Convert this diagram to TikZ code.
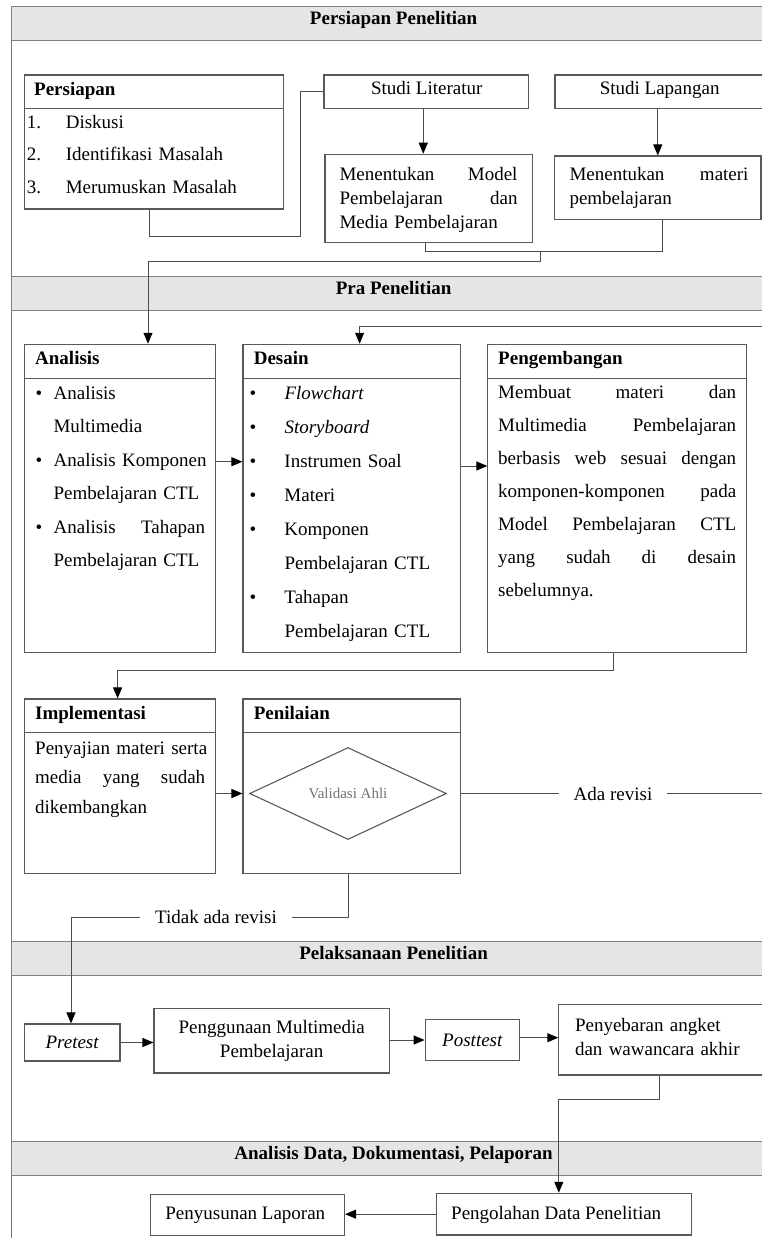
\documentclass[tikz,border=0pt]{standalone}
\usepackage{fontspec}
\setmainfont{Liberation Serif}
\usetikzlibrary{arrows.meta,shapes.geometric}
\begin{document}
\begin{tikzpicture}[x=1pt,y=-1pt,
  box/.style={draw=black!65,line width=1.1pt,inner sep=0pt,rectangle},
  band/.style={draw=black!50,fill=black!10,line width=1pt,inner sep=0pt,rectangle,minimum width=764.5pt,minimum height=34pt},
  conn/.style={draw=black!70,line width=1pt},
  arr/.style={conn,-{Triangle[length=11pt,width=9pt,color=black]}},
  txt/.style={font=\fontsize{19}{23}\selectfont,inner sep=0pt},
  btxt/.style={txt,anchor=base},
  hdr/.style={font=\bfseries\fontsize{19}{23}\selectfont,inner sep=0pt,anchor=base west},
  bandtxt/.style={font=\bfseries\fontsize{19}{23}\selectfont,inner sep=0pt,anchor=base},
  para/.style 2 args={inner sep=0pt,anchor=base west,text width=#1,align=left,font=\fontsize{19}{#2}\selectfont},
  lbl/.style={txt,fill=white,inner xsep=15pt,inner ysep=3pt}
]
\useasboundingbox (0,0) rectangle (762,1238);
\clip (0,0) rectangle (762,1238);

% table frame
\draw[draw=black!55,line width=1pt] (11.5,7) rectangle (776,1260);

% section bands
\node[band] (b1) at (393.75,24) {};
\node[bandtxt] (b1t) at (393.6,25) {Persiapan Penelitian};
\node[band] (b2) at (393.75,293.7) {};
\node[bandtxt] (b2t) at (393.6,294.7) {Pra Penelitian};
\node[band] (b3) at (393.75,958) {};
\node[bandtxt] (b3t) at (393.6,959) {Pelaksanaan Penelitian};
\node[band] (b4) at (393.75,1158.6) {};
\node[bandtxt] (b4t) at (393.6,1159.6) {Analisis Data, Dokumentasi, Pelaporan};

% ---- Persiapan Penelitian
\node[box,minimum width=259pt,minimum height=33.3pt] (perH) at (153.8,91.65) {};
\node[box,minimum width=259pt,minimum height=100.7pt] (perB) at (153.8,158.65) {};
\node[hdr] (perHt) at (34,96) {Persiapan};
\node[para={250pt}{32.5pt}] (perBt) at (26.7,128.3)
  {\makebox[38.9pt][l]{1.}Diskusi\\\makebox[38.9pt][l]{2.}Identifikasi Masalah\\\makebox[38.9pt][l]{3.}Merumuskan Masalah};

\node[box,minimum width=204.5pt,minimum height=33.5pt] (lit) at (426.25,91.75) {};
\node[btxt] (litt) at (426.7,94.5) {Studi Literatur};
\node[box,minimum width=245pt,minimum height=33.5pt] (lap) at (677.5,91.75) {};
\node[btxt] (lapt) at (659.7,94.5) {Studi Lapangan};

\node[box,minimum width=207.3pt,minimum height=88pt] (modl) at (428.65,198.3) {};
\node[para={178pt}{24pt}] (modlt) at (339.3,180.5)
  {\makebox[178pt][l]{Menentukan\hfill Model}\\\makebox[178pt][l]{Pembelajaran\hfill dan}\\Media Pembelajaran};
\node[box,minimum width=206.5pt,minimum height=63.3pt] (mat) at (657.75,187.65) {};
\node[para={179pt}{23.5pt}] (matt) at (569.3,180.7)
  {\makebox[179pt][l]{Menentukan\hfill materi}\\pembelajaran};

% ---- Pra Penelitian
\node[box,minimum width=191.4pt,minimum height=34pt] (anaH) at (120,361.3) {};
\node[box,minimum width=191.4pt,minimum height=274.4pt] (anaB) at (120,515.5) {};
\node[hdr] (anaHt) at (35,364.5) {Analisis};
\node[para={180pt}{33.5pt}] (anaBt) at (35.5,399)
  {\makebox[17.9pt][l]{\textbullet}Analisis\\
   \hspace*{17.9pt}Multimedia\\
   \makebox[17.9pt][l]{\textbullet}Analisis Komponen\\
   \hspace*{17.9pt}Pembelajaran CTL\\
   \makebox[17.9pt][l]{\textbullet}\makebox[151.5pt][l]{Analisis\hfill Tahapan}\\
   \hspace*{17.9pt}Pembelajaran CTL};

\node[box,minimum width=217.6pt,minimum height=34pt] (desH) at (351.8,361.3) {};
\node[box,minimum width=217.6pt,minimum height=274.4pt] (desB) at (351.8,515.5) {};
\node[hdr] (desHt) at (253.6,364.5) {Desain};
\node[para={205pt}{34pt}] (desBt) at (249.4,399)
  {\makebox[34.9pt][l]{\textbullet}\textit{Flowchart}\\
   \makebox[34.9pt][l]{\textbullet}\textit{Storyboard}\\
   \makebox[34.9pt][l]{\textbullet}Instrumen Soal\\
   \makebox[34.9pt][l]{\textbullet}Materi\\
   \makebox[34.9pt][l]{\textbullet}Komponen\\
   \hspace*{34.9pt}Pembelajaran CTL\\
   \makebox[34.9pt][l]{\textbullet}Tahapan\\
   \hspace*{34.9pt}Pembelajaran CTL};

\node[box,minimum width=258.7pt,minimum height=34pt] (pengH) at (617.25,361.3) {};
\node[box,minimum width=258.7pt,minimum height=274.4pt] (pengB) at (617.25,515.5) {};
\node[hdr] (pengHt) at (498,364.5) {Pengembangan};
\node[para={240pt}{33pt}] (pengBt) at (498,398.5)
  {\makebox[238pt][l]{Membuat\hfill materi\hfill dan}\\
   \makebox[238pt][l]{Multimedia\hfill Pembelajaran}\\
   \makebox[238pt][l]{berbasis\hfill web\hfill sesuai\hfill dengan}\\
   \makebox[238pt][l]{komponen-komponen\hfill pada}\\
   \makebox[238pt][l]{Model\hfill Pembelajaran\hfill CTL}\\
   \makebox[238pt][l]{yang\hfill sudah\hfill di\hfill desain}\\
   sebelumnya.};

\node[box,minimum width=191.4pt,minimum height=33.7pt] (impH) at (120,715.85) {};
\node[box,minimum width=191.4pt,minimum height=140.6pt] (impB) at (120,803) {};
\node[hdr] (impHt) at (35,719.5) {Implementasi};
\node[para={175pt}{29.5pt}] (impBt) at (35,754.2)
  {Penyajian materi serta\\\makebox[170pt][l]{media\hfill yang\hfill sudah}\\dikembangkan};

\node[box,minimum width=217.6pt,minimum height=33.7pt] (penH) at (351.8,715.85) {};
\node[box,minimum width=217.6pt,minimum height=140.6pt] (penB) at (351.8,803) {};
\node[hdr] (penHt) at (253.6,719.5) {Penilaian};
\node[draw=black!65,line width=1.1pt,diamond,minimum width=196.7pt,minimum height=92pt,inner sep=0pt,
      font=\fontsize{15}{18}\selectfont,text=black!55] (dia) at (348,793.5) {Validasi Ahli};

% ---- Pelaksanaan Penelitian
\node[box,minimum width=95.8pt,minimum height=37pt,font=\itshape\fontsize{19}{23}\selectfont] (pre) at (72.1,1042.5) {Pretest};
\node[box,minimum width=235.3pt,minimum height=64.5pt,align=center,font=\fontsize{19}{23.5}\selectfont] (peng2) at (271.65,1040.75)
  {Penggunaan Multimedia\\Pembelajaran};
\node[box,minimum width=94.2pt,minimum height=41.4pt,font=\itshape\fontsize{19}{23}\selectfont] (post) at (472.3,1040) {Posttest};
\node[box,minimum width=241.2pt,minimum height=70.5pt] (sebar) at (679.4,1039.75) {};
\node[para={200pt}{24pt}] (sebart) at (574.8,1031.5) {Penyebaran angket\\dan wawancara akhir};

% ---- Analisis Data
\node[box,minimum width=255.5pt,minimum height=41.7pt] (olah) at (564.05,1214.15) {};
\node[txt,anchor=base west] (olaht) at (451,1219.5) {Pengolahan Data Penelitian};
\node[box,minimum width=194.4pt,minimum height=41.2pt] (susun) at (247.3,1214.9) {};
\node[btxt] (susunt) at (245.3,1219.8) {Penyusunan Laporan};

% ---- connectors
\coordinate (c1) at (300.3,236.7);
\draw[conn] ([xshift=-4.1pt]perB.south) |- (c1) |- (lit.west);
\draw[arr] ([xshift=-3pt]lit.south) -- ([xshift=-3pt]lit.south |- modl.north);
\draw[arr] (lap.south -| mat.north) -- (mat.north);
\coordinate (j2) at (540,251.7);
\draw[conn] ([xshift=-3.6pt]modl.south) |- (j2) -| ([xshift=4.25pt]mat.south);
\coordinate (j3) at (148,261.7);
\draw[arr] (j2) |- (j3) -- (j3 |- anaH.north);

\coordinate (r1) at (776,793.5);
\coordinate (r2) at (359.6,326);
\draw[arr] (dia.east -| penB.east) -- (r1) |- (r2) -- (r2 |- desH.north);

\coordinate (ya) at (230,461.7);
\draw[arr] (ya -| anaB.east) -- (ya -| desB.west);
\coordinate (yb) at (470,466);
\draw[arr] (yb -| desB.east) -- (yb -| pengB.west);
\coordinate (q1) at (117.6,670);
\draw[arr] ([xshift=-4pt]pengB.south) |- (q1) -- (q1 |- impH.north);
\draw[arr] (dia.west -| impB.east) -- (dia.west -| penB.west);
\coordinate (q2) at (71,917.3);
\draw[arr] ([xshift=-3pt]penB.south) |- (q2) -- (q2 |- pre.north);

\draw[arr] (pre.east) -- (pre.east -| peng2.west);
\draw[arr] (post.west -| peng2.east) -- (post.west);
\draw[arr] ([yshift=2.3pt]post.east) -- ([yshift=2.3pt]post.east -| sebar.west);
\coordinate (q3) at (659.4,1099.3);
\coordinate (q4) at (558.8,1099.3);
\draw[arr] (q3 |- sebar.south) -- (q3) -- (q4) -- (q4 |- olah.north);
\draw[arr] (olah.west) -- (olah.west -| susun.east);

% connector labels
\node[lbl] (ada) at (613,793.5) {Ada revisi};
\node[lbl] (tidak) at (216,917.3) {Tidak ada revisi};
\end{tikzpicture}
\end{document}
